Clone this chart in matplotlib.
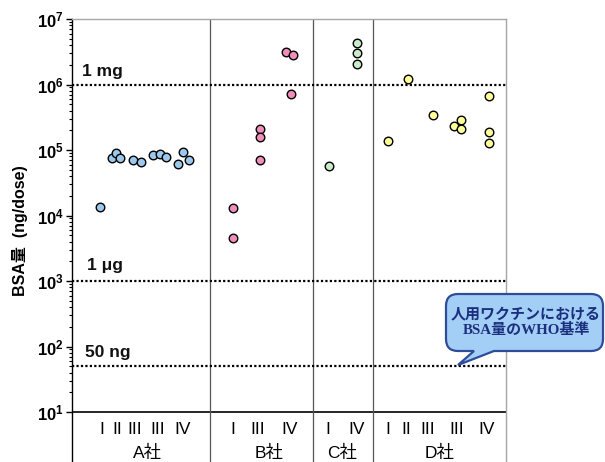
import matplotlib
matplotlib.use("Agg")
import matplotlib.pyplot as plt
from matplotlib.path import Path
from matplotlib.patches import PathPatch
from matplotlib.ticker import FixedLocator, FixedFormatter, NullFormatter
import numpy as np

plt.rcParams['font.family'] = ['Liberation Sans', 'Noto Sans CJK JP']
plt.rcParams['mathtext.fontset'] = 'custom'
plt.rcParams['mathtext.rm'] = 'Liberation Sans:bold'
plt.rcParams['mathtext.bf'] = 'Liberation Sans:bold'
plt.rcParams['mathtext.default'] = 'bf'

# ---- data ----
companies = ['A社', 'B社', 'C社', 'D社']
company_x = [7.5, 19.7, 27.0, 36.8]
separators = [13.8, 24.1, 30.1]

lot_labels = {
    'A社': ['I', 'II', 'III', 'III', 'IV'],
    'B社': ['I', 'III', 'IV'],
    'C社': ['I', 'IV'],
    'D社': ['I', 'II', 'III', 'III', 'IV'],
}
lot_x = {
    'A社': [3.0, 4.5, 6.3, 8.6, 11.1],
    'B社': [16.1, 18.6, 21.8],
    'C社': [25.6, 28.5],
    'D社': [31.6, 33.4, 35.6, 38.5, 41.5],
}

a_x = [2.8, 4.0, 4.4, 4.8, 6.1, 6.9, 8.1, 8.8, 9.4, 11.1, 10.6, 11.7]
a_val = [1.35e4, 7.5e4, 9.0e4, 7.5e4, 7.0e4, 6.6e4, 8.4e4, 8.7e4, 7.8e4, 9.3e4, 6.1e4, 7.0e4]
b_x = [16.1, 16.1, 18.8, 18.8, 18.8, 21.4, 22.1, 21.9]
b_val = [1.3e4, 4.6e3, 2.1e5, 1.6e5, 7.0e4, 3.1e6, 2.8e6, 7.2e5]
c_x = [25.7, 28.5, 28.5, 28.5]
c_val = [5.7e4, 4.3e6, 3.0e6, 2.05e6]
d_x = [31.6, 33.6, 36.1, 38.2, 38.9, 38.9, 41.7, 41.7, 41.7]
d_val = [1.37e5, 1.21e6, 3.4e5, 2.3e5, 2.9e5, 2.1e5, 6.7e5, 1.9e5, 1.3e5]

ref_values = [1e6, 1e3, 50]
ref_labels = ['1 mg', '1 μg', '50 ng']
ref_label_pos = [(1.0, 1.6e6), (1.5, 1.75e3), (1.3, 82)]

callout_text = '人用ワクチンにおける\nBSA量のWHO基準'

colors = ['#9DC8EE', '#F08DBA', '#C8EDCB', '#FFFF99']

# ---- figure ----
W, H = 605, 462
fig = plt.figure(figsize=(W / 100, H / 100), dpi=100)
ax = fig.add_axes([72 / W, 0, (506 - 72) / W, (462 - 19) / H])
ax.set_yscale('log')
ymin = 10 ** (1 - (462 - 412) / 65.5)
ax.set_ylim(ymin, 1e7)
ax.set_xlim(0, 43.4)

# spines
ax.spines['bottom'].set_visible(False)
ax.spines['top'].set_color('#A6A6A6')
ax.spines['right'].set_color('#A6A6A6')
ax.spines['left'].set_color('black')
for s in ['top', 'right', 'left']:
    ax.spines[s].set_linewidth(1.0)

# ticks
major = [10.0 ** k for k in range(1, 8)]
minor = [m * 10.0 ** k for k in range(1, 7) for m in range(2, 10)]
ax.yaxis.set_major_locator(FixedLocator(major))
ax.yaxis.set_major_formatter(FixedFormatter([r'$10^{%d}$' % k for k in range(1, 8)]))
ax.yaxis.set_minor_locator(FixedLocator(minor))
ax.yaxis.set_minor_formatter(NullFormatter())
ax.tick_params(axis='y', which='major', direction='out', length=4, width=1, labelsize=12, pad=2)
ax.tick_params(axis='y', which='minor', direction='out', length=2, width=0.8)
ax.set_xticks([])

# baseline at 10^1
ax.axhline(10, color='black', lw=1.2)
# separators
for sx in separators:
    ax.axvline(sx, color='#555555', lw=0.9)

# reference lines
for v in ref_values:
    ax.plot([0, 43.4], [v, v], color='black', lw=1.6, ls=(0, (1, 1)), clip_on=False, zorder=2)
for lab, (lx, ly) in zip(ref_labels, ref_label_pos):
    ax.text(lx, ly, lab, fontsize=12.5, fontweight='bold', ha='left', va='center', color='#111111')

# points
for xs, vs, c in zip([a_x, b_x, c_x, d_x], [a_val, b_val, c_val, d_val], colors):
    ax.scatter(xs, vs, s=38, facecolor=c, edgecolor='black', linewidth=1.0, zorder=3)

# lot labels & company labels
for comp, cx in zip(companies, company_x):
    for lx, lab in zip(lot_x[comp], lot_labels[comp]):
        ax.text(lx, 10 ** (1 - 18 / 65.5), lab, fontsize=12.5, ha='center', va='center')
    ax.text(cx, 10 ** (1 - 41 / 65.5), comp, fontsize=12.5, ha='center', va='center')

ax.set_ylabel('BSA量  (ng/dose)', fontsize=11.5, fontweight='bold')
ax.yaxis.set_label_coords(-0.101, (462 - 231) / 443)

# callout bubble (pixel coords -> figure fraction)
def P(x, y):
    return (x / W, (H - y) / H)

x0, x1, yt, yb, r = 446, 603, 294, 351, 12
tail_l, tail_r, tip = 474, 494, (458, 365)
verts = [
    P(x0 + r, yt), P(x1 - r, yt), P(x1, yt), P(x1, yt + r),
    P(x1, yb - r), P(x1, yb), P(x1 - r, yb),
    P(tail_r, yb), P(*tip), P(tail_l, yb),
    P(x0 + r, yb), P(x0, yb), P(x0, yb - r),
    P(x0, yt + r), P(x0, yt), P(x0 + r, yt),
    P(x0 + r, yt),
]
codes = [Path.MOVETO, Path.LINETO, Path.CURVE3, Path.CURVE3,
         Path.LINETO, Path.CURVE3, Path.CURVE3,
         Path.LINETO, Path.LINETO, Path.LINETO,
         Path.LINETO, Path.CURVE3, Path.CURVE3,
         Path.LINETO, Path.CURVE3, Path.CURVE3,
         Path.CLOSEPOLY]
bubble = PathPatch(Path(verts, codes), facecolor='#A3CFF6', edgecolor='#2E4C9A',
                   linewidth=1.6, transform=fig.transFigure, zorder=5)
fig.patches.append(bubble)
fig.text(526 / W, (H - 322) / H, callout_text, fontsize=10.8, fontweight='bold',
         color='#1B2F7E', ha='center', va='center', linespacing=1.15,
         family=['Liberation Serif', 'Noto Sans CJK JP'], zorder=6)

fig.savefig('out.png', dpi=100)
